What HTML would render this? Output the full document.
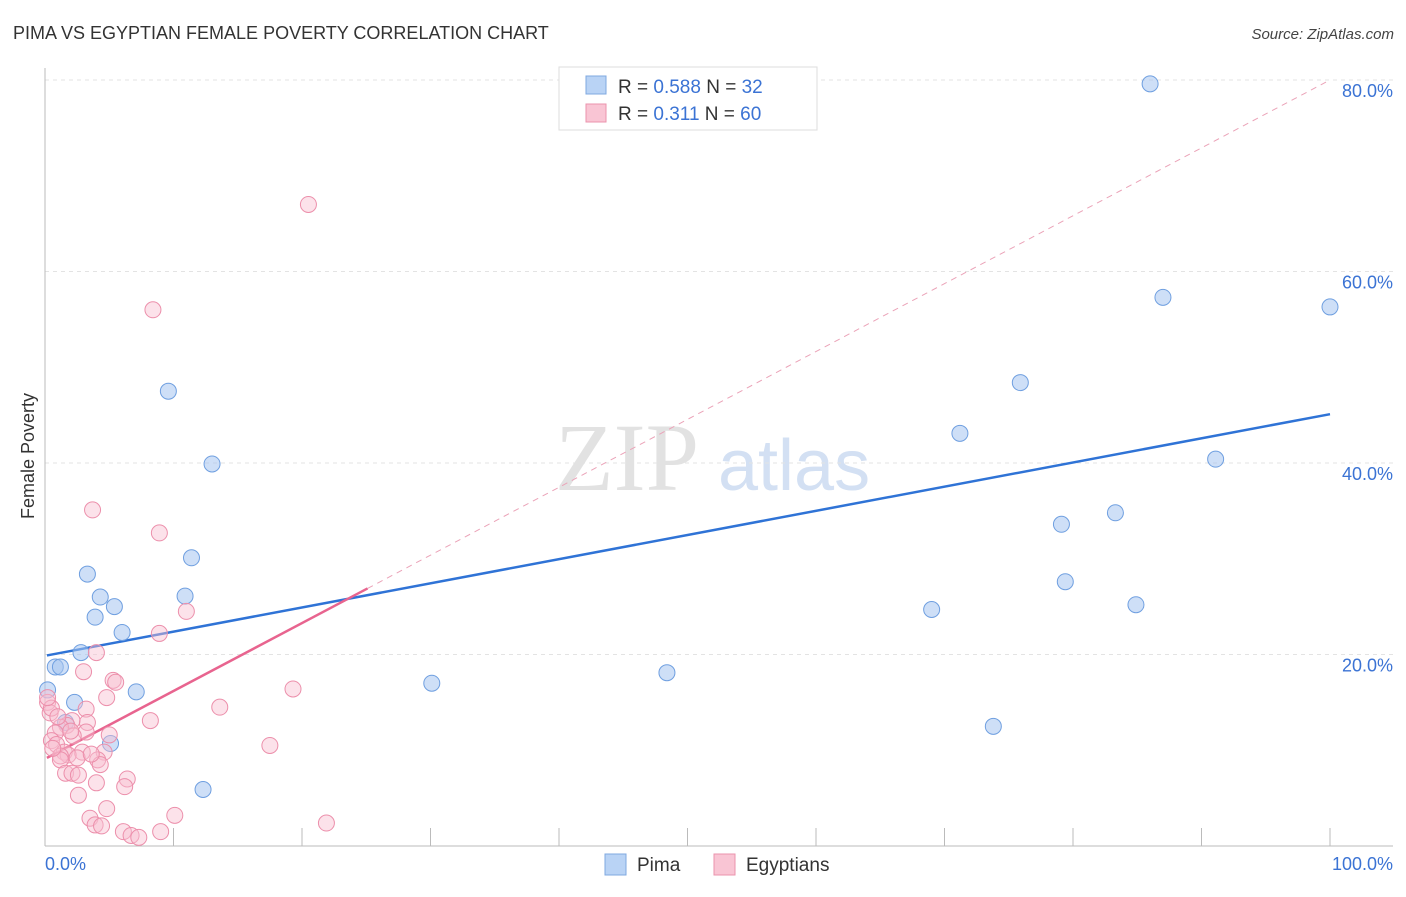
<!DOCTYPE html>
<html><head><meta charset="utf-8"><style>
body{margin:0;background:#fff;font-family:"Liberation Sans",sans-serif}
</style></head><body>
<svg id="chart" width="1406" height="892" xmlns="http://www.w3.org/2000/svg" style="font-family:'Liberation Sans',sans-serif">
<text x="13" y="39" font-size="18" fill="#333">PIMA VS EGYPTIAN FEMALE POVERTY CORRELATION CHART</text>
<text x="1394" y="39" font-size="15" fill="#444" text-anchor="end" font-style="italic">Source: ZipAtlas.com</text>
<text transform="translate(34,456) rotate(-90)" font-size="18" fill="#333" text-anchor="middle">Female Poverty</text>
<g>
<text x="555" y="490" font-size="96" fill="#e2e2e2" font-family="Liberation Serif,serif">ZIP</text>
<text x="718" y="490" font-size="72" fill="#d3e0f3">atlas</text>
</g>
<g id="grid"></g><g id="axes"></g><g id="lines"></g><g id="pts"></g>
<g>
<rect x="559" y="67" width="258" height="63" fill="#fff" stroke="#ddd"/>
<rect x="586" y="76" width="20" height="18" fill="#b9d3f5" stroke="#7fa8e0"/>
<rect x="586" y="104" width="20" height="18" fill="#f9c5d4" stroke="#eb93ad"/>
<text x="618" y="93" font-size="19" fill="#333">R = <tspan fill="#3b73d4">0.588</tspan>   N = <tspan fill="#3b73d4">32</tspan></text>
<text x="618" y="120" font-size="19" fill="#333">R =  <tspan fill="#3b73d4">0.311</tspan>   N = <tspan fill="#3b73d4">60</tspan></text>
</g>
<g>
<rect x="605" y="854" width="21" height="21" fill="#b9d3f5" stroke="#7fa8e0"/>
<text x="637" y="871" font-size="19" fill="#333">Pima</text>
<rect x="714" y="854" width="21" height="21" fill="#f9c5d4" stroke="#eb93ad"/>
<text x="746" y="871" font-size="19" fill="#333">Egyptians</text>
</g>
</svg>
<script>
const yTicks=[20,40,60,80];
const yTickLabels=["20.0%","40.0%","60.0%","80.0%"];
const xTickLabels=["0.0%","100.0%"];
const pimaX=[86.0,87.0,100,75.9,71.2,91.1,79.1,83.3,79.4,84.9,69.0,73.8,48.4,30.1,9.6,13.0,11.4,10.9,3.3,4.3,5.4,3.9,6.0,2.8,0.8,1.2,7.1,0.2,2.3,1.6,5.1,12.3];
const pimaY=[79.6,57.3,56.3,48.4,43.1,40.4,33.6,34.8,27.6,25.2,24.7,12.5,18.1,17.0,47.5,39.9,30.1,26.1,28.4,26.0,25.0,23.9,22.3,20.2,18.7,18.7,16.1,16.3,15.0,12.9,10.7,5.9];
const egyX=[20.5,8.4,3.7,8.9,11.0,8.9,4.0,3.0,5.3,5.5,19.3,4.8,13.6,0.2,0.4,0.5,3.2,8.2,3.3,2.1,1.7,1.2,0.8,3.2,2.2,0.5,0.9,17.5,4.6,2.9,1.5,1.8,1.2,2.5,4.1,1.2,4.3,1.6,2.1,2.6,6.4,4.0,6.2,2.6,4.8,10.1,3.5,3.9,4.4,21.9,6.1,6.7,9.0,7.3,0.2,1.0,2.0,0.6,3.6,5.0];
const egyY=[67.0,56.0,35.1,32.7,24.5,22.2,20.2,18.2,17.3,17.1,16.4,15.5,14.5,15.0,13.9,14.4,14.3,13.1,12.9,13.1,12.6,12.4,11.8,11.9,11.5,11.0,10.6,10.5,9.8,9.8,9.8,9.5,9.4,9.2,9.0,9.0,8.5,7.6,7.6,7.4,7.0,6.6,6.2,5.3,3.9,3.2,2.9,2.2,2.1,2.4,1.5,1.1,1.5,0.9,15.5,13.5,12.0,10.2,9.6,11.6];
const pimaFit=[[0.15,19.9],[100,45.1]];
const egyFit=[[0.15,9.2],[25.1,26.9]];
const egyDash=[[25.1,26.9],[100,80.0]];
const X=v=>45+v*12.85, Y=v=>846-v*9.575;
const NS="http://www.w3.org/2000/svg";
function mk(p,t,a){const e=document.createElementNS(NS,t);for(const k in a)e.setAttribute(k,a[k]);document.getElementById(p).appendChild(e);return e;}
yTicks.forEach((t,i)=>{
 const g=mk('grid','line',{x1:45,x2:1393,y1:Y(t),y2:Y(t),stroke:"#e3e3e3","stroke-dasharray":"4,4"});
 
 
 const l=mk('axes','text',{x:1393,y:Y(t)+17,"font-size":18,fill:"#3b73d4","text-anchor":"end"});l.textContent=yTickLabels[i];
 
 
});
let a=mk('axes','line',{x1:45,x2:1393,y1:846,y2:846,stroke:"#bbb"});


a=mk('axes','line',{x1:45,x2:45,y1:68,y2:846,stroke:"#bbb"});


for(let i=0;i<=10;i++){const t=mk('axes','line',{x1:X(i*10),x2:X(i*10),y1:828,y2:846,stroke:"#bbb"});
 
 }
let l0=mk('axes','text',{x:45,y:870,"font-size":18,fill:"#3b73d4"});l0.textContent=xTickLabels[0];


let l1=mk('axes','text',{x:1393,y:870,"font-size":18,fill:"#3b73d4","text-anchor":"end"});l1.textContent=xTickLabels[1];


function line(d,c,w,dash,name){const e=mk('lines','line',{x1:X(d[0][0]),y1:Y(d[0][1]),x2:X(d[1][0]),y2:Y(d[1][1]),stroke:c,"stroke-width":w});if(dash)e.setAttribute('stroke-dasharray',dash);
 
 }
line(egyDash,"#eba3b8",1,"6,5",'egyptians-trend-extension');
pimaX.forEach((x,i)=>{const c=mk('pts','circle',{cx:X(x),cy:Y(pimaY[i]),r:8,fill:"rgba(165,196,240,0.55)",stroke:"#6f9fe0","stroke-width":1});
 
 });
egyX.forEach((x,i)=>{const c=mk('pts','circle',{cx:X(x),cy:Y(egyY[i]),r:8,fill:"rgba(248,190,208,0.45)",stroke:"#ec8fab","stroke-width":1});
 
 });
line(pimaFit,"#2f73d6",2.5,null,'pima-trend-line');
line(egyFit,"#e8648f",2.5,null,'egyptians-trend-line');
</script>
</body></html>
